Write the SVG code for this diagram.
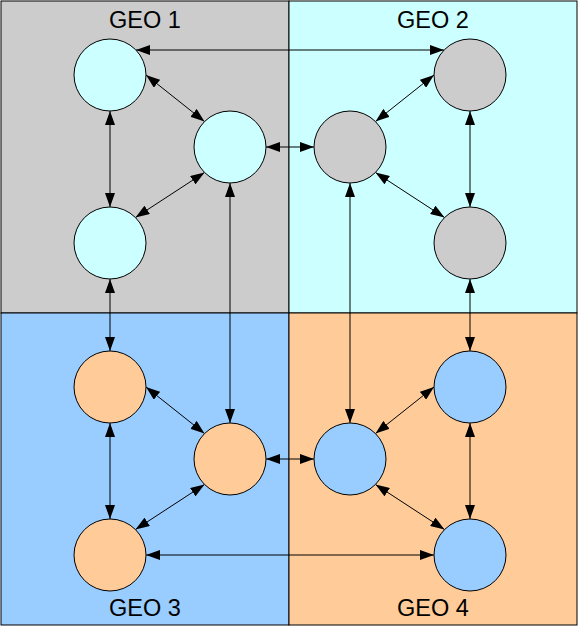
<svg xmlns="http://www.w3.org/2000/svg" width="580" height="628" viewBox="0 0 580 628">
  <defs>
    <marker id="arr" markerUnits="userSpaceOnUse" markerWidth="14" markerHeight="10" refX="14" refY="5" orient="auto-start-reverse">
      <path d="M0,0 L14,5 L0,10 z" fill="#000"/>
    </marker>
    <style>
      .geo { stroke: #000; stroke-width: 1; }
      .label { font-family: "Liberation Sans", Arial, sans-serif; font-size: 23.5px; fill: #000; text-anchor: middle; }
      .node { stroke: #000; stroke-width: 1; }
      .c1 { fill: #ccffff; }
      .c2 { fill: #cccccc; }
      .c3 { fill: #ffcc99; }
      .c4 { fill: #99ccff; }
      .conn line { stroke: #000; stroke-width: 1; fill: none; marker-start: url(#arr); marker-end: url(#arr); }
    </style>
  </defs>

  <g id="geo1">
    <rect class="geo" x="1" y="1" width="288" height="312" fill="#cccccc"/>
    <text class="label" x="145" y="28">GEO 1</text>
  </g>
  <g id="geo2">
    <rect class="geo" x="289" y="1" width="288" height="312" fill="#ccffff"/>
    <text class="label" x="433" y="28">GEO 2</text>
  </g>
  <g id="geo3">
    <rect class="geo" x="1" y="313" width="288" height="312" fill="#99ccff"/>
    <text class="label" x="145" y="616">GEO 3</text>
  </g>
  <g id="geo4">
    <rect class="geo" x="289" y="313" width="288" height="312" fill="#ffcc99"/>
    <text class="label" x="433" y="616">GEO 4</text>
  </g>

  <g id="connectors" class="conn">
    <line x1="136" y1="50" x2="444" y2="50"/>
    <line x1="146" y1="75" x2="204.5" y2="121.5"/>
    <line x1="110" y1="111" x2="110" y2="207"/>
    <line x1="204.5" y1="172.5" x2="135.5" y2="217.5"/>
    <line x1="266" y1="147" x2="314" y2="147"/>
    <line x1="230" y1="183" x2="230" y2="423"/>
    <line x1="110" y1="279" x2="110" y2="351"/>
    <line x1="434" y1="75" x2="375.5" y2="121.5"/>
    <line x1="470" y1="111" x2="470" y2="207"/>
    <line x1="375.5" y1="172.5" x2="444.5" y2="217.5"/>
    <line x1="350" y1="183" x2="350" y2="423"/>
    <line x1="470" y1="279" x2="470" y2="351"/>
    <line x1="146" y1="387" x2="204.5" y2="433.5"/>
    <line x1="110" y1="423" x2="110" y2="519"/>
    <line x1="204.5" y1="484.5" x2="135.5" y2="529.5"/>
    <line x1="266" y1="459" x2="314" y2="459"/>
    <line x1="146" y1="555" x2="434" y2="555"/>
    <line x1="434" y1="387" x2="375.5" y2="433.5"/>
    <line x1="470" y1="423" x2="470" y2="519"/>
    <line x1="375.5" y1="484.5" x2="444.5" y2="529.5"/>
  </g>

  <g id="n1a"><circle class="node c1" cx="110" cy="75" r="36"/></g>
  <g id="n1b"><circle class="node c1" cx="230" cy="147" r="36"/></g>
  <g id="n1c"><circle class="node c1" cx="110" cy="243" r="36"/></g>
  <g id="n2a"><circle class="node c2" cx="470" cy="75" r="36"/></g>
  <g id="n2b"><circle class="node c2" cx="350" cy="147" r="36"/></g>
  <g id="n2c"><circle class="node c2" cx="470" cy="243" r="36"/></g>
  <g id="n3a"><circle class="node c3" cx="110" cy="387" r="36"/></g>
  <g id="n3b"><circle class="node c3" cx="230" cy="459" r="36"/></g>
  <g id="n3c"><circle class="node c3" cx="110" cy="555" r="36"/></g>
  <g id="n4a"><circle class="node c4" cx="470" cy="387" r="36"/></g>
  <g id="n4b"><circle class="node c4" cx="350" cy="459" r="36"/></g>
  <g id="n4c"><circle class="node c4" cx="470" cy="555" r="36"/></g>
</svg>
